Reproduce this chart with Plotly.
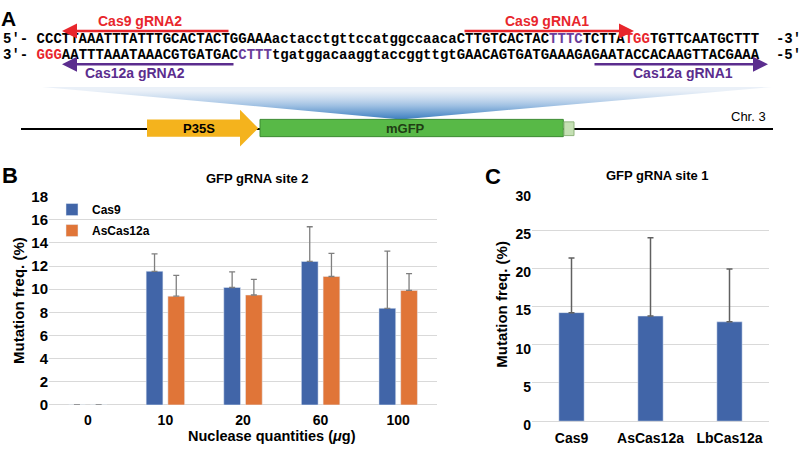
import plotly.graph_objects as go

# ---------------- data ----------------
doses = ["0", "10", "20", "60", "100"]
cas9_site2 = [0, 11.55, 10.15, 12.4, 8.35]
cas9_site2_err = [0, 1.5, 1.35, 3.0, 4.95]
as_site2 = [0, 9.4, 9.5, 11.1, 9.9]
as_site2_err = [0, 1.8, 1.35, 2.0, 1.45]

nucleases = ["Cas9", "AsCas12a", "LbCas12a"]
site1 = [14.2, 13.75, 13.0]
site1_err = [7.15, 10.25, 6.9]

# sequence strings (panel A)
top_a = "CCCTTAAATTTATTTGCACTACTGGAAAactacctgttccatggccaacaCTTGTCACTAC"
top_b = "TTTC"
top_c = "TCTTA"
top_d = "TGG"
top_e = "TGTTCAATGCTTT"
bot_a = "GGG"
bot_b = "AATTTAAATAAACGTGATGAC"
bot_c = "CTTT"
bot_d = "tgatggacaaggtaccggttgtGAACAGTGATGAAAGAGAATACCACAAGTTACGAAA"

BLUE = "#4165a8"
ORANGE = "#e07538"
RED = "#e8262c"
PURPLE = "#5b2d8e"
GRID = "#d9d9d9"
ERR = "#7f7f7f"
W, H = 803, 457
SANS = "Liberation Sans"

fig = go.Figure()

fig.add_trace(go.Bar(
    x=doses, y=cas9_site2, name="Cas9", marker_color=BLUE,
    error_y=dict(type="data", array=cas9_site2_err, arrayminus=[0] * len(doses),
                 symmetric=False, color=ERR, thickness=1.3, width=3),
    xaxis="x", yaxis="y", legendgroup="a"))
fig.add_trace(go.Bar(
    x=doses, y=as_site2, name="AsCas12a", marker_color=ORANGE,
    error_y=dict(type="data", array=as_site2_err, arrayminus=[0] * len(doses),
                 symmetric=False, color=ERR, thickness=1.3, width=3),
    xaxis="x", yaxis="y", legendgroup="b"))
fig.add_trace(go.Bar(
    x=nucleases, y=site1, marker_color=BLUE, width=0.32, showlegend=False,
    error_y=dict(type="data", array=site1_err, arrayminus=[0] * len(nucleases),
                 symmetric=False, color="#606060", thickness=1.5, width=3),
    xaxis="x2", yaxis="y2"))

# blue fan (schematic)
fig.add_trace(go.Scatter(
    x=[42, 772, 401, 42], y=[81.7, 81.7, 115.7, 81.7], mode="lines",
    fill="toself", line=dict(width=0), showlegend=False, hoverinfo="skip",
    fillgradient=dict(type="vertical", start=81.7, stop=115.7,
                      colorscale=[[0, "rgba(225,234,245,0.7)"], [0.45, "#9dbfe2"],
                                  [1, "#1765b2"]]),
    xaxis="x3", yaxis="y3"))

shapes = []
shapes.append(dict(type="line", xref="x3", yref="y3", x0=21, x1=773, y0=125.7, y1=125.7,
                   line=dict(color="black", width=2)))
shapes.append(dict(type="path", xref="x3", yref="y3",
                   path="M147,115.7 L240,115.7 L240,105.7 L258.3,125 L240,144 L240,134 L147,134 Z",
                   fillcolor="#f4b31d", line=dict(width=0)))
shapes.append(dict(type="rect", xref="x3", yref="y3", x0=260, x1=563.3, y0=115.7, y1=133.8,
                   fillcolor="#58b947", line=dict(color="#3c8a32", width=1)))
shapes.append(dict(type="rect", xref="x3", yref="y3", x0=564, x1=574, y0=118.3, y1=132.7,
                   fillcolor="#c5e0b4", line=dict(color="#8fb47c", width=1)))

ann = []


def txt(x, y, s, size=14, color="black", bold=True, family=SANS, anchor="center", angle=0):
    ann.append(dict(x=x, y=y, xref="x3", yref="y3", text=s, showarrow=False,
                    xanchor=anchor, yanchor="middle", textangle=angle,
                    font=dict(family=family, size=size, color=color,
                              weight="bold" if bold else "normal")))


def arrow(x_tip, x_tail, y, color):
    ann.append(dict(x=x_tip, y=y, ax=x_tail, ay=y, xref="x3", yref="y3", axref="x3", ayref="y3",
                    text="", showarrow=True, arrowhead=2, arrowsize=1.2, arrowwidth=2.5,
                    arrowcolor=color))


def span(s, c):
    return f'<span style="color:{c}">{s}</span>'


NB = "\u00a0"
row1 = ("5′-" + NB + top_a + span(top_b, "#6a3d9a") + top_c + span(top_d, RED) + top_e
        + NB + NB + "-3′")
row2 = ("3′-" + NB + span(bot_a, RED) + bot_b + span(bot_c, "#6a3d9a") + bot_d
        + NB + NB + "-5′")
txt(1, 31, row1, size=14, family="Liberation Mono", anchor="left")
txt(1, 48, row2, size=14, family="Liberation Mono", anchor="left")

txt(8, 10, "A", size=21)
arrow(62, 230, 23, RED)
txt(140, 13, "Cas9 gRNA2", color=RED)
arrow(634, 463, 23, RED)
txt(547, 13, "Cas9 gRNA1", color=RED)
arrow(62, 235, 58, PURPLE)
txt(135, 67, "Cas12a gRNA2", color=PURPLE)
arrow(768, 593, 58, PURPLE)
txt(683, 67, "Cas12a gRNA1", color=PURPLE)

txt(199, 125, "P35S", size=13)
txt(405, 125, "mGFP", size=13, color="#1f3d14")
txt(748, 113, "Chr. 3", size=13, bold=False)

txt(10, 175, "B", size=22)
txt(257, 178, "GFP gRNA site 2", size=13)
txt(19, 306, "Mutation freq. (%)", size=15, angle=-90)
txt(272, 447.5, "Nuclease quantities (<i>μ</i>g)", size=14.5)
txt(493, 176, "C", size=22)
txt(657, 175, "GFP gRNA site 1", size=13)
txt(502, 310, "Mutation freq. (%)", size=15, angle=-90)

tickBx = dict(family=SANS, size=14, color="black", weight="bold")
tickBy = dict(family=SANS, size=15, color="black", weight="bold")
tickC = dict(family=SANS, size=14, color="black", weight="bold")

fig.update_layout(
    width=W, height=H, margin=dict(l=0, r=0, t=0, b=0),
    paper_bgcolor="white", plot_bgcolor="rgba(0,0,0,0)",
    barmode="group", bargap=0.44, bargroupgap=0.23,
    shapes=shapes, annotations=ann,
    legend=dict(x=52 / W, y=1 - 195 / H, xanchor="left", yanchor="top",
                bgcolor="rgba(0,0,0,0)", tracegroupgap=2,
                font=dict(family=SANS, size=12, color="black", weight="bold")),
    xaxis=dict(domain=[49 / W, 437 / W], anchor="y", type="category", showgrid=False,
               showline=False, ticks="", tickfont=tickBx, ticklabelstandoff=5),
    yaxis=dict(domain=[1 - 415 / H, 1 - 196.7 / H], anchor="x", range=[0, 18], dtick=2,
               showgrid=True, gridcolor=GRID, gridwidth=1.2, zeroline=True, zerolinecolor=GRID,
               zerolinewidth=1.2, showline=False, ticks="", tickfont=tickBy),
    xaxis2=dict(domain=[532 / W, 769 / W], anchor="y2", type="category", showgrid=False,
                showline=False, ticks="", tickfont=tickC, ticklabelstandoff=7),
    yaxis2=dict(domain=[1 - 432 / H, 1 - 191.7 / H], anchor="x2", range=[0, 30], dtick=5,
                showgrid=True, gridcolor=GRID, gridwidth=1.2, zeroline=True, zerolinecolor=GRID,
                zerolinewidth=1.2, showline=False, ticks="", tickfont=tickC, ticklabelshift=4),
    xaxis3=dict(domain=[0, 1], range=[0, W], anchor="y3", visible=False, fixedrange=True),
    yaxis3=dict(domain=[0, 1], range=[H, 0], anchor="x3", visible=False, fixedrange=True),
)

fig.write_html("out.html", config={"displayModeBar": False},
               post_script="document.body.style.margin='0px';")
